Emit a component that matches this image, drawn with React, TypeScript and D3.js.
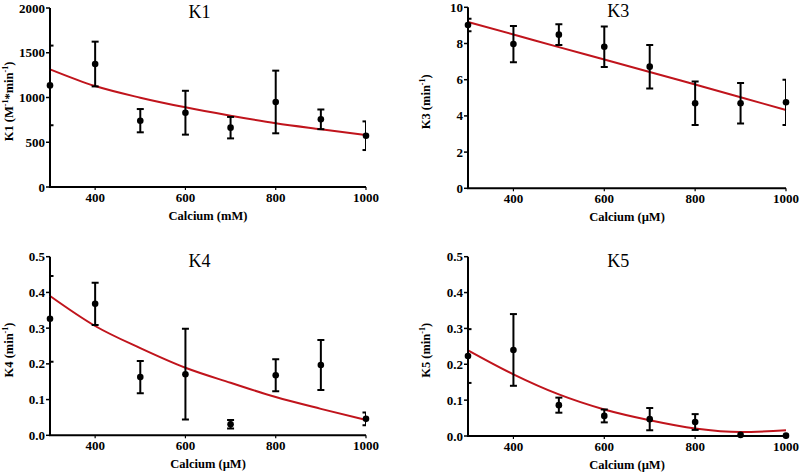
import React from "react";
import * as d3 from "d3";

const calcium = [300, 400, 500, 600, 700, 800, 900, 1000];

const k1Mean = [1135, 1374, 741, 830, 663, 950, 756, 573];
const k1Err = [445, 250, 130, 245, 120, 350, 110, 160];
const k1Fit = [1315, 1128, 998, 890, 797, 712, 645, 581];

const k3Mean = [9.02, 7.97, 8.49, 7.82, 6.72, 4.7, 4.7, 4.75];
const k3Err = [0.35, 1.0, 0.57, 1.12, 1.2, 1.2, 1.12, 1.25];
const k3Fit = [9.19, 8.5, 7.8, 7.12, 6.43, 5.73, 5.03, 4.33];

const k4Mean = [0.326, 0.368, 0.163, 0.171, 0.031, 0.168, 0.197, 0.046];
const k4Err = [0.12, 0.059, 0.045, 0.127, 0.012, 0.045, 0.07, 0.018];
const k4Fit = [0.39, 0.306, 0.244, 0.189, 0.147, 0.107, 0.074, 0.043];

const k5Mean = [0.223, 0.24, 0.086, 0.056, 0.047, 0.039, 0.003, 0.001];
const k5Err = [0.075, 0.1, 0.021, 0.018, 0.031, 0.022, 0, 0];
const k5Fit = [0.239, 0.172, 0.116, 0.074, 0.044, 0.021, 0.011, 0.016];

const xTicks = [400, 600, 800, 1000];
const k1Ticks = [0, 500, 1000, 1500, 2000];
const k3Ticks = [0, 2, 4, 6, 8, 10];
const k45Ticks = [0, 0.1, 0.2, 0.3, 0.4, 0.5];

type Panel = {
  id: string;
  title: string;
  yLabel: string;
  unitSup: string;
  xLabel: string;
  mean: number[];
  err: number[];
  fit: number[];
  yMax: number;
  yTicks: number[];
  fmt: (v: number) => string;
  x0: number;
  x1: number;
  yBottom: number;
  yTop: number;
  yLabelX: number;
};

const panels: Panel[] = [
  {
    id: "k1", title: "K1", yLabel: "K1 (M", unitSup: "k1", xLabel: "Calcium (mM)",
    mean: k1Mean, err: k1Err, fit: k1Fit, yMax: 2000, yTicks: k1Ticks,
    fmt: (v) => String(v), x0: 50, x1: 366, yBottom: 187, yTop: 8, yLabelX: 13,
  },
  {
    id: "k3", title: "K3", yLabel: "K3 (min", unitSup: "min", xLabel: "Calcium (\u00b5M)",
    mean: k3Mean, err: k3Err, fit: k3Fit, yMax: 10, yTicks: k3Ticks,
    fmt: (v) => String(v), x0: 468, x1: 786, yBottom: 188.3, yTop: 7.3, yLabelX: 430,
  },
  {
    id: "k4", title: "K4", yLabel: "K4 (min", unitSup: "min", xLabel: "Calcium (\u00b5M)",
    mean: k4Mean, err: k4Err, fit: k4Fit, yMax: 0.5, yTicks: k45Ticks,
    fmt: d3.format(".1f"), x0: 50, x1: 366, yBottom: 435.3, yTop: 256.7, yLabelX: 13,
  },
  {
    id: "k5", title: "K5", yLabel: "K5 (min", unitSup: "min", xLabel: "Calcium (\u00b5M)",
    mean: k5Mean, err: k5Err, fit: k5Fit, yMax: 0.5, yTicks: k45Ticks,
    fmt: d3.format(".1f"), x0: 468, x1: 786, yBottom: 436, yTop: 256.7, yLabelX: 430,
  },
];

const FONT = "'Liberation Serif', 'Times New Roman', serif";

function PanelView({ p }: { p: Panel }) {
  const x = d3.scaleLinear().domain([300, 1000]).range([p.x0, p.x1]);
  const y = d3.scaleLinear().domain([0, p.yMax]).range([p.yBottom, p.yTop]);
  const line = d3
    .line<number>()
    .x((_, i) => x(calcium[i]))
    .y((d) => y(d))
    .curve(d3.curveMonotoneX);
  const cx = (p.x0 + p.x1) / 2;
  const cy = (p.yBottom + p.yTop) / 2;
  const clipId = `clip-${p.id}`;
  return (
    <g>
      <defs>
        <clipPath id={clipId}>
          <rect x={p.x0} y={p.yTop - 20} width={p.x1 - p.x0} height={p.yBottom - p.yTop + 40} />
        </clipPath>
      </defs>
      {/* title */}
      <text x={x(600) + 14} y={p.yTop + 10} textAnchor="middle" fontFamily={FONT} fontSize={18}>
        {p.title}
      </text>
      {/* y axis */}
      <line x1={p.x0} x2={p.x0} y1={p.yTop} y2={p.yBottom} stroke="#000" strokeWidth={2} />
      {p.yTicks.map((t) => (
        <g key={t}>
          <line x1={p.x0 - 4} x2={p.x0} y1={y(t)} y2={y(t)} stroke="#000" strokeWidth={1.5} />
          <text x={p.x0 - 5} y={y(t)} dy="0.35em" textAnchor="end" fontFamily={FONT}
            fontWeight="bold" fontSize={13}>
            {p.fmt(t)}
          </text>
        </g>
      ))}
      {/* x axis */}
      <line x1={p.x0 - 1} x2={p.x1} y1={p.yBottom} y2={p.yBottom} stroke="#000" strokeWidth={2} />
      {xTicks.map((t) => (
        <g key={t}>
          <line x1={x(t)} x2={x(t)} y1={p.yBottom} y2={p.yBottom + 3} stroke="#000" strokeWidth={1.2} />
          <text x={x(t)} y={p.yBottom + 15} textAnchor="middle" fontFamily={FONT}
            fontWeight="bold" fontSize={13}>
            {t}
          </text>
        </g>
      ))}
      {/* axis titles */}
      <text x={cx} y={p.yBottom + 33} textAnchor="middle" fontFamily={FONT} fontWeight="bold" fontSize={12.5}>
        {p.xLabel}
      </text>
      <text transform={`translate(${p.yLabelX},${cy + 4}) rotate(-90)`} textAnchor="middle"
        fontFamily={FONT} fontWeight="bold" fontSize={12.5}>
        {p.id === "k1" ? (
          <>
            K1 (M<tspan fontSize={8} dy={-5}>-1</tspan>
            <tspan dy={5}>*min</tspan>
            <tspan fontSize={8} dy={-5}>-1</tspan>
            <tspan dy={5}>)</tspan>
          </>
        ) : (
          <>
            {p.yLabel}
            <tspan fontSize={8} dy={-5}>-1</tspan>
            <tspan dy={5}>)</tspan>
          </>
        )}
      </text>
      {/* fit line */}
      <path d={line(p.fit) || ""} fill="none" stroke="#c0141c" strokeWidth={2} />
      {/* error bars */}
      <g clipPath={`url(#${clipId})`}>
        {p.mean.map((m, i) =>
          p.err[i] > 0 ? (
            <g key={i} stroke="#000" strokeWidth={2}>
              <line x1={x(calcium[i])} x2={x(calcium[i])} y1={y(m + p.err[i])} y2={y(Math.max(0, m - p.err[i]))} />
              <line x1={x(calcium[i]) - 3.5} x2={x(calcium[i]) + 3.5} y1={y(m + p.err[i])} y2={y(m + p.err[i])} />
              <line x1={x(calcium[i]) - 3.5} x2={x(calcium[i]) + 3.5} y1={y(Math.max(0, m - p.err[i]))} y2={y(Math.max(0, m - p.err[i]))} />
            </g>
          ) : null
        )}
      </g>
      {/* points */}
      {p.mean.map((m, i) => (
        <circle key={i} cx={x(calcium[i])} cy={y(m)} r={3.3} fill="#000" />
      ))}
    </g>
  );
}

export default function App() {
  return (
    <svg width={800} height={473} style={{ position: "absolute", left: 0, top: 0, background: "#fff" }}>
      <rect x={0} y={0} width={800} height={473} fill="#fff" />
      {panels.map((p) => (
        <PanelView key={p.id} p={p} />
      ))}
    </svg>
  );
}
